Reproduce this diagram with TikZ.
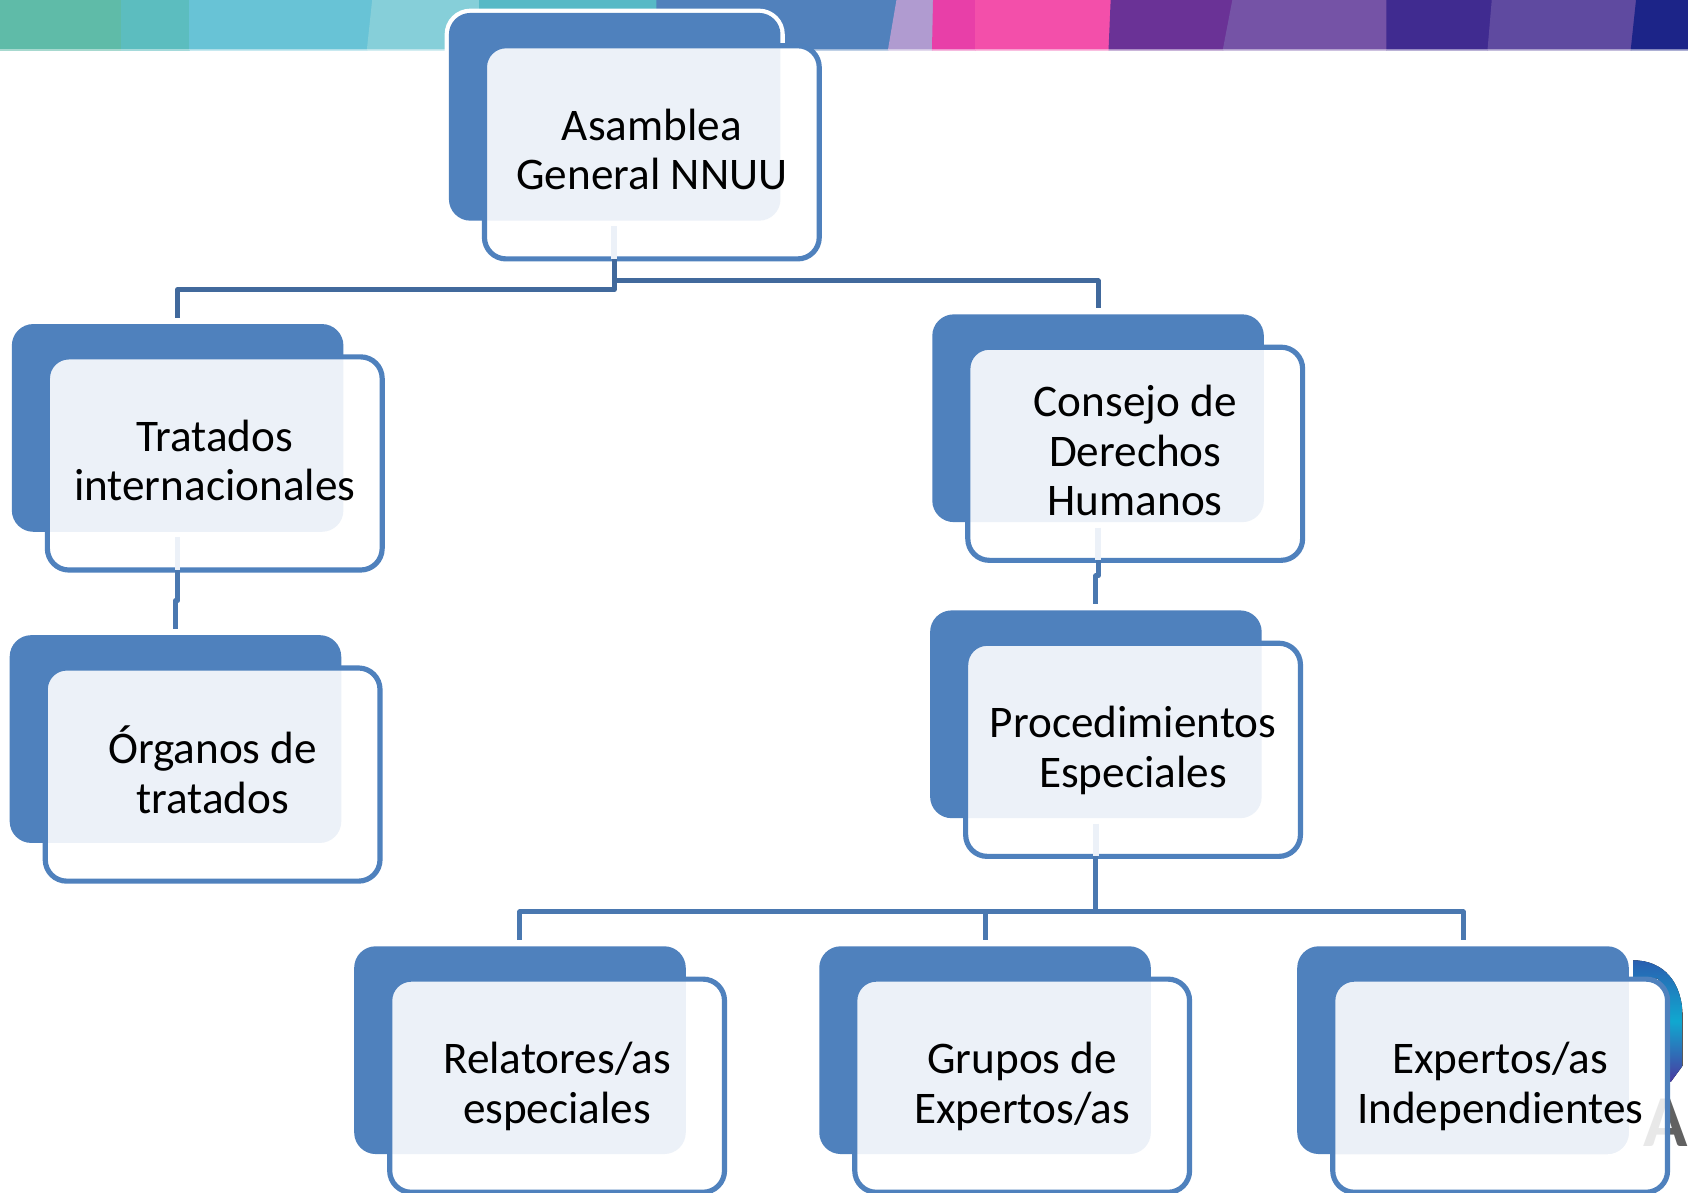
\documentclass[tikz,border=0pt]{standalone}
\usepackage{fontspec}
\usetikzlibrary{calc}
\setmainfont{Carlito}
\definecolor{bluebox}{HTML}{4F81BD}
\definecolor{lightbox}{HTML}{ECF1F8}
\definecolor{linkdark}{HTML}{41699C}
\definecolor{linkblue}{HTML}{4A78B0}
\definecolor{logotop}{HTML}{2A5FB0}
\definecolor{logomid}{HTML}{10A8D0}
\definecolor{logobot}{HTML}{4A3AA0}
\tikzset{
  backbox/.style={anchor=north west,rectangle,rounded corners=20pt,fill=bluebox,minimum width=308pt,minimum height=193pt,inner sep=0pt,outer sep=0pt},
  ringbox/.style={anchor=north west,rectangle,rounded corners=24pt,fill=white,minimum width=316pt,minimum height=201pt,inner sep=0pt,outer sep=0pt},
  frontbox/.style={rectangle,rounded corners=20pt,draw=bluebox,line width=4.8pt,fill=white,minimum width=311pt,minimum height=198pt,inner sep=0pt,outer sep=0pt,align=center,font=\fontsize{42}{46}\selectfont,text=black},
  linkline/.style={draw=#1,line width=4.6pt,line join=round},
  linkline/.default=linkblue,
  stub/.style={draw=lightbox,line width=5pt}
}
\newcommand{\boxlines}[1]{\raisebox{-2.5pt}[\height][\depth]{\begin{tabular}{@{}c@{}}#1\end{tabular}}}
% options, name, back x, back y, text
\newcommand{\orgbox}[5][]{%
  \node[backbox] (#2b) at (#3,#4) {};
  \node[frontbox,#1,path picture={\fill[lightbox,rounded corners=20pt] (#2b.north west) rectangle (#2b.south east);}]
    (#2) at (#3+188.5,#4+129.5) {\boxlines{#5}};
}
\begin{document}
\begin{tikzpicture}[x=1pt,y=-1pt]
\useasboundingbox (0,0) rectangle (1568,1107.3);
\fill[white] (0,0) rectangle (1568,1107.3);
% top colour band
\foreach \a/\b/\c/\d/\col in {
 0/113/113/0/5FBBA8,
 113/176/176/113/5CBDBF,
 176/346/341/176/68C3D6,
 346/445/445/341/86CFD9,
 445/610/610/445/57B9C6,
 610/833/825/610/5181BC,
 833/867/866/825/B09BD0,
 867/906/906/866/E83FA8,
 906/1032/1030/906/F34FAA,
 1032/1145/1136/1030/6A3296,
 1145/1288/1288/1136/7553A6,
 1288/1386/1382/1288/402B90,
 1386/1520/1515/1382/5F4AA0,
 1520/1568/1568/1515/1C2488}{
  \definecolor{bandc}{HTML}{\col}
  \fill[bandc] (\a-0.3,0) -- (\b+0.3,0) -- (\c+0.3,47) -- (\d-0.3,47) -- cycle;
}
\fill[white,opacity=.45] (0,45.5) rectangle (1568,48);
% logo remnant behind the last box
\fill[top color=logotop,bottom color=logobot,middle color=logomid]
  (1517,892) .. controls (1545,892) and (1563,912) .. (1563,945) -- (1563,990) -- (1552,1005) -- (1550,1005) -- (1550,925) -- (1540,909) -- (1517,909) -- cycle;
\node[inner sep=0pt,text=black!62,font=\fontsize{68}{68}\selectfont\bfseries,anchor=base west] (logoa) at (1526,1065) {A};
% boxes
\node[ringbox] (asr) at (413,8) {};
\node[backbox] (asb) at (417,12) {};
\node[frontbox,path picture={\fill[lightbox,rounded corners=20pt] (asb.north west) rectangle (asb.south east);}]
  (as) at (605.5,141.5) {\boxlines{Asamblea\\General NNUU}};
\orgbox{tr}{11}{301}{Tratados\\internacionales}
\orgbox{or}{9}{590}{Órganos de\\tratados}
\orgbox{co}{866}{292}{Consejo de\\Derechos\\Humanos}
\orgbox{pr}{864}{567}{Procedimientos\\Especiales}
\orgbox{re}{329}{879}{Relatores/as\\especiales}
\orgbox{gr}{761}{879}{Grupos de\\Expertos/as}
\orgbox[fill opacity=.86,text opacity=1]{ex}{1205}{879}{Expertos/as\\Independientes}
% connectors
\coordinate (asl) at ($(as.south)+(-35,0)$);
\draw[linkline=linkdark] (asl) |- (trb.north |- 0,269) -- ([yshift=6pt]trb.north);
\draw[linkline=linkdark] (asl) |- (cob.north |- 0,261) -- ([yshift=6pt]cob.north);
\draw[stub] ($(asb.south -| asl)+(0,5)$) -- (asl);
\draw[linkline] ([yshift=6pt]orb.north) -- (orb.north |- 0,558) -- (trb.south |- 0,558) -- (tr.south -| trb.south);
\draw[stub] ($(trb.south)+(0,5)$) -- (tr.south -| trb.south);
\draw[linkline] ([yshift=6pt]prb.north) -- (prb.north |- 0,535) -- (cob.south |- 0,535) -- (co.south -| cob.south);
\draw[stub] ($(cob.south)+(0,5)$) -- (co.south -| cob.south);
\coordinate (prdown) at (pr.south -| prb.south);
\draw[linkline] (prdown) -- (prb.south |- 0,847) -| ([yshift=6pt]reb.north);
\draw[linkline] (prb.south |- 0,847) -| ([yshift=6pt]grb.north);
\draw[linkline] (prb.south |- 0,847) -| ([yshift=6pt]exb.north);
\draw[stub] ($(prb.south)+(0,5)$) -- (prdown);
\end{tikzpicture}
\end{document}
